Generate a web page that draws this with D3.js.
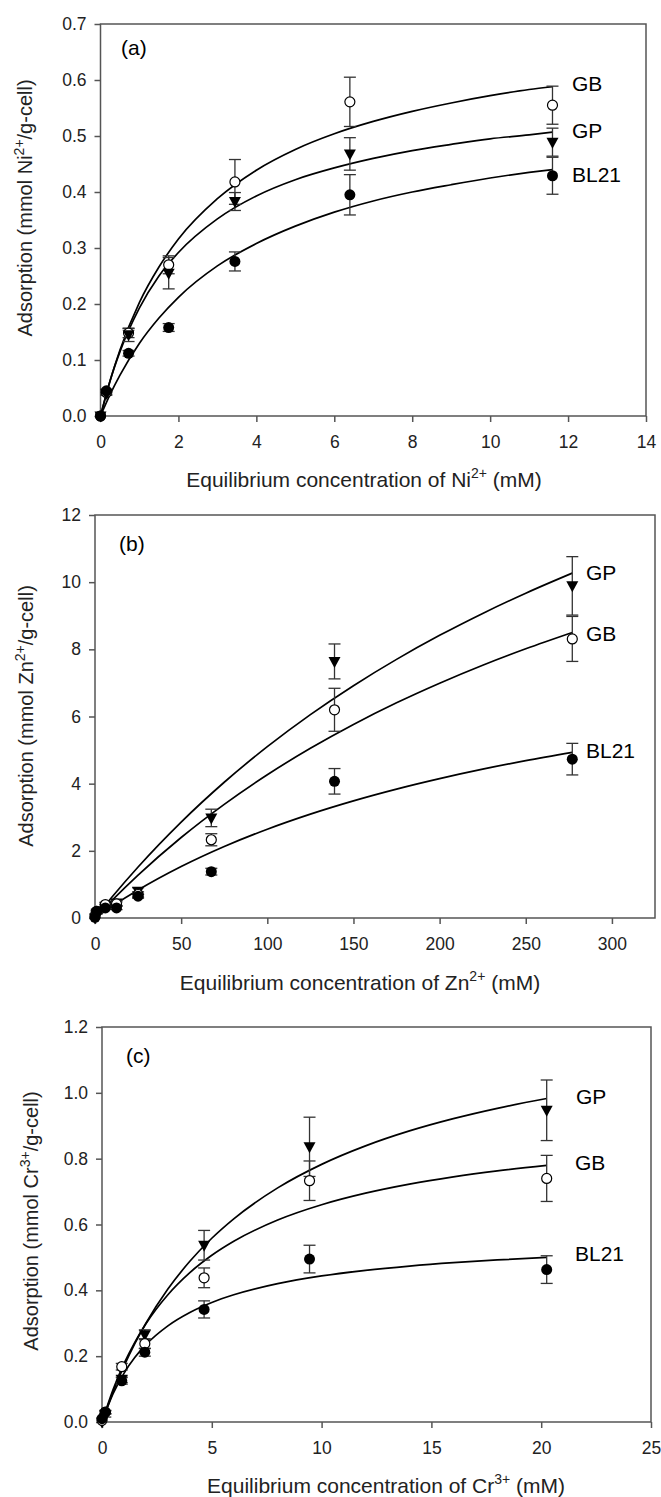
<!DOCTYPE html>
<html><head><meta charset="utf-8">
<script src="https://cdn.jsdelivr.net/npm/d3@7"></script>
<style>
html,body{margin:0;padding:0;background:#fff;}
svg{display:block;font-family:"Liberation Sans",Arial,sans-serif;}
</style></head>
<body><svg id="chart" width="661" height="1497"></svg>
<script>
// ---------- Panel (a): Ni ----------
const niX = [0, 0.15, 0.72, 1.75, 3.45, 6.4, 11.6];
const niGB = [0, 0.042, 0.148, 0.27, 0.418, 0.561, 0.555];
const niGBerr = [0, 0.003, 0.008, 0.016, 0.04, 0.044, 0.034];
const niGP = [0, 0.04, 0.145, 0.255, 0.383, 0.468, 0.489];
const niGPerr = [0, 0.003, 0.012, 0.028, 0.016, 0.029, 0.025];
const niBL = [0, 0.045, 0.112, 0.158, 0.276, 0.395, 0.429];
const niBLerr = [0, 0.003, 0.005, 0.007, 0.017, 0.036, 0.033];
const niCurveX = [0, 0.25, 0.5, 1, 1.5, 2, 3, 4, 5, 6, 7, 8, 9, 10, 11, 11.6];
const niCurveGB = [0, 0.064, 0.118, 0.203, 0.266, 0.316, 0.388, 0.439, 0.476, 0.504, 0.526, 0.544, 0.559, 0.572, 0.583, 0.588];
const niCurveGP = [0, 0.064, 0.115, 0.193, 0.250, 0.292, 0.352, 0.393, 0.422, 0.443, 0.460, 0.474, 0.485, 0.495, 0.502, 0.507];
const niCurveBL = [0, 0.039, 0.073, 0.130, 0.175, 0.212, 0.268, 0.308, 0.339, 0.364, 0.384, 0.400, 0.413, 0.425, 0.435, 0.440];
const niXTicks = [0, 2, 4, 6, 8, 10, 12, 14];
const niYTicks = [0, 0.1, 0.2, 0.3, 0.4, 0.5, 0.6, 0.7];

// ---------- Panel (b): Zn ----------
const znX = [0, 1, 6, 12.5, 25, 67.5, 139, 277];
const znGP = [0, 0.15, 0.35, 0.45, 0.8, 2.98, 7.64, 9.89];
const znGPerr = [0, 0.03, 0.05, 0.08, 0.1, 0.26, 0.52, 0.87];
const znGB = [0.05, 0.2, 0.4, 0.42, 0.7, 2.33, 6.2, 8.31];
const znGBerr = [0, 0.03, 0.05, 0.06, 0.08, 0.18, 0.64, 0.67];
const znBL = [0.02, 0.2, 0.3, 0.3, 0.65, 1.38, 4.07, 4.73];
const znBLerr = [0, 0.03, 0.04, 0.05, 0.06, 0.1, 0.38, 0.47];
const znCurveX = [0, 10, 25, 50, 75, 100, 125, 150, 175, 200, 225, 250, 277];
const znCurveGP = [0, 0.631, 1.518, 2.855, 4.042, 5.102, 6.056, 6.918, 7.701, 8.416, 9.070, 9.672, 10.27];
const znCurveGB = [0, 0.532, 1.277, 2.397, 3.385, 4.266, 5.054, 5.764, 6.407, 6.991, 7.526, 8.016, 8.502];
const znCurveBL = [0, 0.351, 0.832, 1.532, 2.129, 2.644, 3.093, 3.488, 3.838, 4.150, 4.431, 4.684, 4.931];
const znXTicks = [0, 50, 100, 150, 200, 250, 300];
const znYTicks = [0, 2, 4, 6, 8, 10, 12];

// ---------- Panel (c): Cr ----------
const crX = [0, 0.15, 0.9, 1.95, 4.65, 9.45, 20.25];
const crGP = [0, 0.02, 0.13, 0.265, 0.537, 0.836, 0.947];
const crGPerr = [0, 0.005, 0.01, 0.015, 0.045, 0.09, 0.092];
const crGB = [0.005, 0.03, 0.168, 0.238, 0.438, 0.733, 0.74];
const crGBerr = [0, 0.005, 0.01, 0.015, 0.03, 0.06, 0.07];
const crBL = [0.01, 0.03, 0.125, 0.212, 0.342, 0.495, 0.463];
const crBLerr = [0, 0.005, 0.01, 0.012, 0.026, 0.042, 0.042];
const crCurveX = [0, 0.5, 1, 1.5, 2, 3, 4, 5, 6, 8, 10, 12, 14, 16, 18, 20.25];
const crCurveGP = [0, 0.0906, 0.1695, 0.2387, 0.300, 0.4038, 0.4882, 0.5582, 0.6172, 0.7112, 0.7827, 0.8389, 0.8843, 0.9216, 0.953, 0.9827];
const crCurveGB = [0, 0.0977, 0.1771, 0.2429, 0.2984, 0.3866, 0.4538, 0.5065, 0.5491, 0.6136, 0.66, 0.6951, 0.7226, 0.7446, 0.7627, 0.7796];
const crCurveBL = [0, 0.085, 0.1479, 0.1964, 0.2349, 0.2922, 0.3328, 0.3631, 0.3865, 0.4204, 0.4437, 0.4608, 0.4738, 0.4841, 0.4923, 0.50];
const crXTicks = [0, 5, 10, 15, 20, 25];
const crYTicks = [0, 0.2, 0.4, 0.6, 0.8, 1.0, 1.2];

const svg = d3.select("#chart");
const AXIS = "#555";
const TXT = "#222";

const panels = [
  { tag: "(a)", ion: "Ni", chg: "2+", xDom: [0, 14], yDom: [0, 0.7],
    box: { l: 100.5, r: 646, t: 24, b: 416 }, xt: niXTicks, yt: niYTicks, yfmt: d3.format(".1f"),
    x: niX, curveX: niCurveX,
    series: [
      { name: "GB", v: niGB, e: niGBerr, c: niCurveGB, shape: "open", lab: [572, 83] },
      { name: "GP", v: niGP, e: niGPerr, c: niCurveGP, shape: "tri", lab: [572, 130] },
      { name: "BL21", v: niBL, e: niBLerr, c: niCurveBL, shape: "dot", lab: [572, 174] } ],
    tagPos: [121, 47], xTitle: [364, 479], yTitle: [25, 208] },
  { tag: "(b)", ion: "Zn", chg: "2+", xDom: [0, 325], yDom: [0, 12],
    box: { l: 95, r: 655, t: 515, b: 918 }, xt: znXTicks, yt: znYTicks, yfmt: d3.format("d"),
    x: znX, curveX: znCurveX,
    series: [
      { name: "GP", v: znGP, e: znGPerr, c: znCurveGP, shape: "tri", lab: [586, 572] },
      { name: "GB", v: znGB, e: znGBerr, c: znCurveGB, shape: "open", lab: [586, 633] },
      { name: "BL21", v: znBL, e: znBLerr, c: znCurveBL, shape: "dot", lab: [586, 750] } ],
    tagPos: [119, 543], xTitle: [360, 982], yTitle: [26, 716] },
  { tag: "(c)", ion: "Cr", chg: "3+", xDom: [0, 25], yDom: [0, 1.2],
    box: { l: 102, r: 651, t: 1027, b: 1422 }, xt: crXTicks, yt: crYTicks, yfmt: d3.format(".1f"),
    x: crX, curveX: crCurveX,
    series: [
      { name: "GP", v: crGP, e: crGPerr, c: crCurveGP, shape: "tri", lab: [576, 1096] },
      { name: "GB", v: crGB, e: crGBerr, c: crCurveGB, shape: "open", lab: [575, 1162] },
      { name: "BL21", v: crBL, e: crBLerr, c: crCurveBL, shape: "dot", lab: [575, 1253] } ],
    tagPos: [126, 1055], xTitle: [386, 1485], yTitle: [31, 1221] }
];

function addTitle(sel, pre, sup, post, size) {
  const supSize = Math.round(size * 0.68);
  const up = Math.round(size * 0.42);
  sel.style("font-size", size + "px");
  sel.append("tspan").text(pre);
  sel.append("tspan").attr("dy", -up).style("font-size", supSize + "px").text(sup);
  sel.append("tspan").attr("dy", up).text(post);
}

panels.forEach(p => {
  const g = svg.append("g");
  const xs = d3.scaleLinear().domain(p.xDom).range([p.box.l, p.box.r]);
  const ys = d3.scaleLinear().domain(p.yDom).range([p.box.b, p.box.t]);

  // frame
  g.append("rect").attr("x", p.box.l).attr("y", p.box.t)
    .attr("width", p.box.r - p.box.l).attr("height", p.box.b - p.box.t)
    .attr("fill", "none").attr("stroke", AXIS).attr("stroke-width", 1.5);

  // axes
  const ax = g.append("g").attr("transform", `translate(0,${p.box.b})`)
    .call(d3.axisBottom(xs).tickValues(p.xt).tickSize(6).tickSizeOuter(0).tickPadding(14).tickFormat(d3.format("d")));
  const ay = g.append("g").attr("transform", `translate(${p.box.l},0)`)
    .call(d3.axisLeft(ys).tickValues(p.yt).tickSize(6).tickSizeOuter(0).tickPadding(8).tickFormat(p.yfmt));
  [ax, ay].forEach(a => {
    a.select(".domain").remove();
    a.selectAll(".tick line").attr("stroke", AXIS).attr("stroke-width", 1.5);
    a.selectAll(".tick text").attr("fill", TXT).style("font-size", "17.5px");
  });

  // curves
  const line = d3.line().x(d => xs(d[0])).y(d => ys(d[1])).curve(d3.curveMonotoneX);
  p.series.forEach(s => {
    g.append("path").datum(p.curveX.map((x, i) => [x, s.c[i]]))
      .attr("d", line).attr("fill", "none").attr("stroke", "#000").attr("stroke-width", 1.7);
  });

  // error bars
  p.series.forEach(s => {
    p.x.forEach((x, i) => {
      if (s.e[i] <= 0) return;
      const cx = xs(x), y1 = ys(s.v[i] + s.e[i]), y2 = ys(s.v[i] - s.e[i]);
      const eb = g.append("g").attr("stroke", "#333").attr("stroke-width", 1.3);
      eb.append("line").attr("x1", cx).attr("x2", cx).attr("y1", y1).attr("y2", y2);
      eb.append("line").attr("x1", cx - 6).attr("x2", cx + 6).attr("y1", y1).attr("y2", y1);
      eb.append("line").attr("x1", cx - 6).attr("x2", cx + 6).attr("y1", y2).attr("y2", y2);
    });
  });

  // markers
  p.series.forEach(s => {
    p.x.forEach((x, i) => {
      const cx = xs(x), cy = ys(s.v[i]);
      if (s.shape === "tri") {
        g.append("path").attr("d", `M${cx - 6},${cy - 4.5}L${cx + 6},${cy - 4.5}L${cx},${cy + 6.5}Z`).attr("fill", "#000");
      } else if (s.shape === "open") {
        g.append("circle").attr("cx", cx).attr("cy", cy).attr("r", 5).attr("fill", "#fff").attr("stroke", "#000").attr("stroke-width", 1.2);
      } else {
        g.append("circle").attr("cx", cx).attr("cy", cy).attr("r", 5.5).attr("fill", "#000");
      }
    });
  });

  // series labels
  p.series.forEach(s => {
    g.append("text").attr("x", s.lab[0]).attr("y", s.lab[1]).attr("dy", "0.36em")
      .attr("fill", "#000").style("font-size", "21px").text(s.name);
  });

  // panel tag
  g.append("text").attr("x", p.tagPos[0]).attr("y", p.tagPos[1]).attr("dy", "0.36em")
    .attr("fill", "#000").style("font-size", "21px").text(p.tag);

  // x title
  const xt = g.append("text").attr("x", p.xTitle[0]).attr("y", p.xTitle[1]).attr("dy", "0.36em")
    .attr("text-anchor", "middle").attr("fill", TXT);
  addTitle(xt, "Equilibrium concentration of " + p.ion, p.chg, " (mM)", 21);

  // y title
  const yt = g.append("text").attr("transform", `translate(${p.yTitle[0]},${p.yTitle[1]}) rotate(-90)`)
    .attr("dy", "0.36em").attr("text-anchor", "middle").attr("fill", TXT);
  addTitle(yt, "Adsorption (mmol " + p.ion, p.chg, "/g-cell)", 20);
});
</script>
</body></html>
